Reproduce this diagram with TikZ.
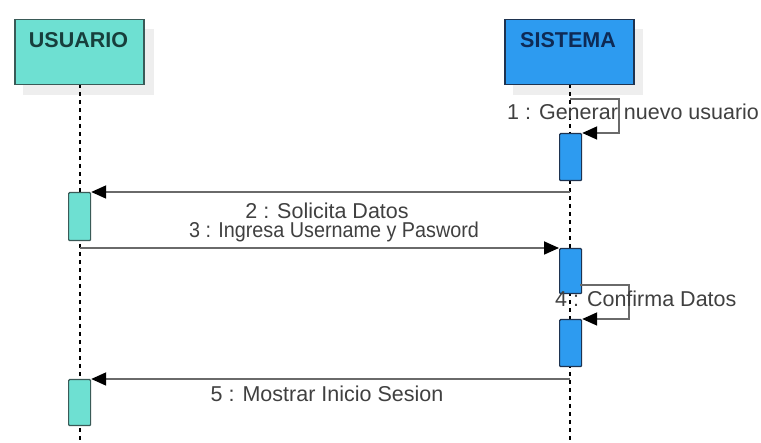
\documentclass[tikz,border=0pt]{standalone}
\usepackage{fontspec}
\setmainfont{Liberation Sans}
\usetikzlibrary{arrows.meta}
\definecolor{tealfill}{HTML}{6EE0D2}
\definecolor{tealline}{HTML}{3A5A57}
\definecolor{tealtext}{HTML}{173F3C}
\definecolor{bluefill}{HTML}{2D9BF0}
\definecolor{blueline}{HTML}{1E3350}
\definecolor{bluetext}{HTML}{0E2A55}
\definecolor{msgline}{HTML}{6A6A6A}
\definecolor{lbl}{HTML}{404040}
\definecolor{shadowc}{HTML}{EEEEEE}
\tikzset{
  actor/.style={draw, line width=1.5pt, minimum width=129pt, minimum height=65pt, inner sep=0pt, anchor=north west},
  act/.style={draw, line width=1.2pt, minimum width=22pt, inner sep=0pt, anchor=north west, rounded corners=1pt},
  life/.style={line width=1.3pt, dash pattern=on 4pt off 4pt, black},
  msg/.style={line width=1.8pt, msgline, -{Triangle[length=15pt,width=13pt,color=black]}},
  lab/.style={font=\fontsize{21.5}{24}\selectfont, text=lbl, inner sep=0pt},
}
\begin{document}
\begin{tikzpicture}[x=1pt,y=-1pt]
\useasboundingbox (0,0) rectangle (761,443);
\fill[white] (0,0) rectangle (761,443);
% shadows
\fill[shadowc] (23,29) rectangle (154,95);
\fill[shadowc] (513,29) rectangle (643,95);
% lifelines
\draw[life] (80,84) -- (80,443);
\draw[life] (570,84) -- (570,443);
% actors
\node[actor, fill=tealfill, draw=tealline] (usuario) at (14,19) {};
\node[anchor=base, font=\bfseries\fontsize{21.5}{24}\selectfont, text=tealtext, inner sep=0pt] (ut) at (78.5,48) {USUARIO};
\node[actor, fill=bluefill, draw=blueline] (sistema) at (504,19) {};
\node[anchor=base, font=\bfseries\fontsize{21.5}{24}\selectfont, text=bluetext, inner sep=0pt] (st) at (568,48) {SISTEMA};
% activations
\node[act, fill=bluefill, draw=blueline, minimum height=47pt] (sa1) at (559,133) {};
\node[act, fill=tealfill, draw=tealline, minimum height=48pt] (ua1) at (68,192) {};
\node[act, fill=bluefill, draw=blueline, minimum height=45pt] (sa2) at (559,248) {};
\node[act, fill=bluefill, draw=blueline, minimum height=47pt] (sa3) at (559,319) {};
\node[act, fill=tealfill, draw=tealline, minimum height=46pt] (ua2) at (68,379) {};
% coordinates on lifelines
\coordinate (s1) at (570,99);
\coordinate (s1r) at (619,99);
\coordinate (s1b) at (619,133);
\coordinate (m2) at (570,192);
\coordinate (m3) at (80,248);
\coordinate (s4) at (580,285);
\coordinate (s4r) at (629,285);
\coordinate (s4b) at (629,319);
\coordinate (m5) at (570,379);
% messages
\draw[msg] (s1) -- (s1r) -- (s1b) -- (sa1.north east);
\draw[msg] (m2) -- (ua1.north east);
\draw[msg] (m3) -- (sa2.north west);
\draw[msg] (s4) -- (s4r) -- (s4b) -- (sa3.north east);
\draw[msg] (m5) -- (ua2.north east);
% labels
\node[lab, anchor=base west] (l1) at (507,120) {1 : Generar nuevo usuario};
\node[lab, anchor=base, text depth=0pt] (l2) at (327,218.5) {2 : Solicita Datos};
\node[lab, anchor=base, xscale=0.92] (l3) at (334,238) {3 : Ingresa Username y Pasword};
\node[lab, anchor=base west] (l4) at (555,307) {4 : Confirma Datos};
\node[lab, anchor=base] (l5) at (327,402) {5 : Mostrar Inicio Sesion};
\end{tikzpicture}
\end{document}
